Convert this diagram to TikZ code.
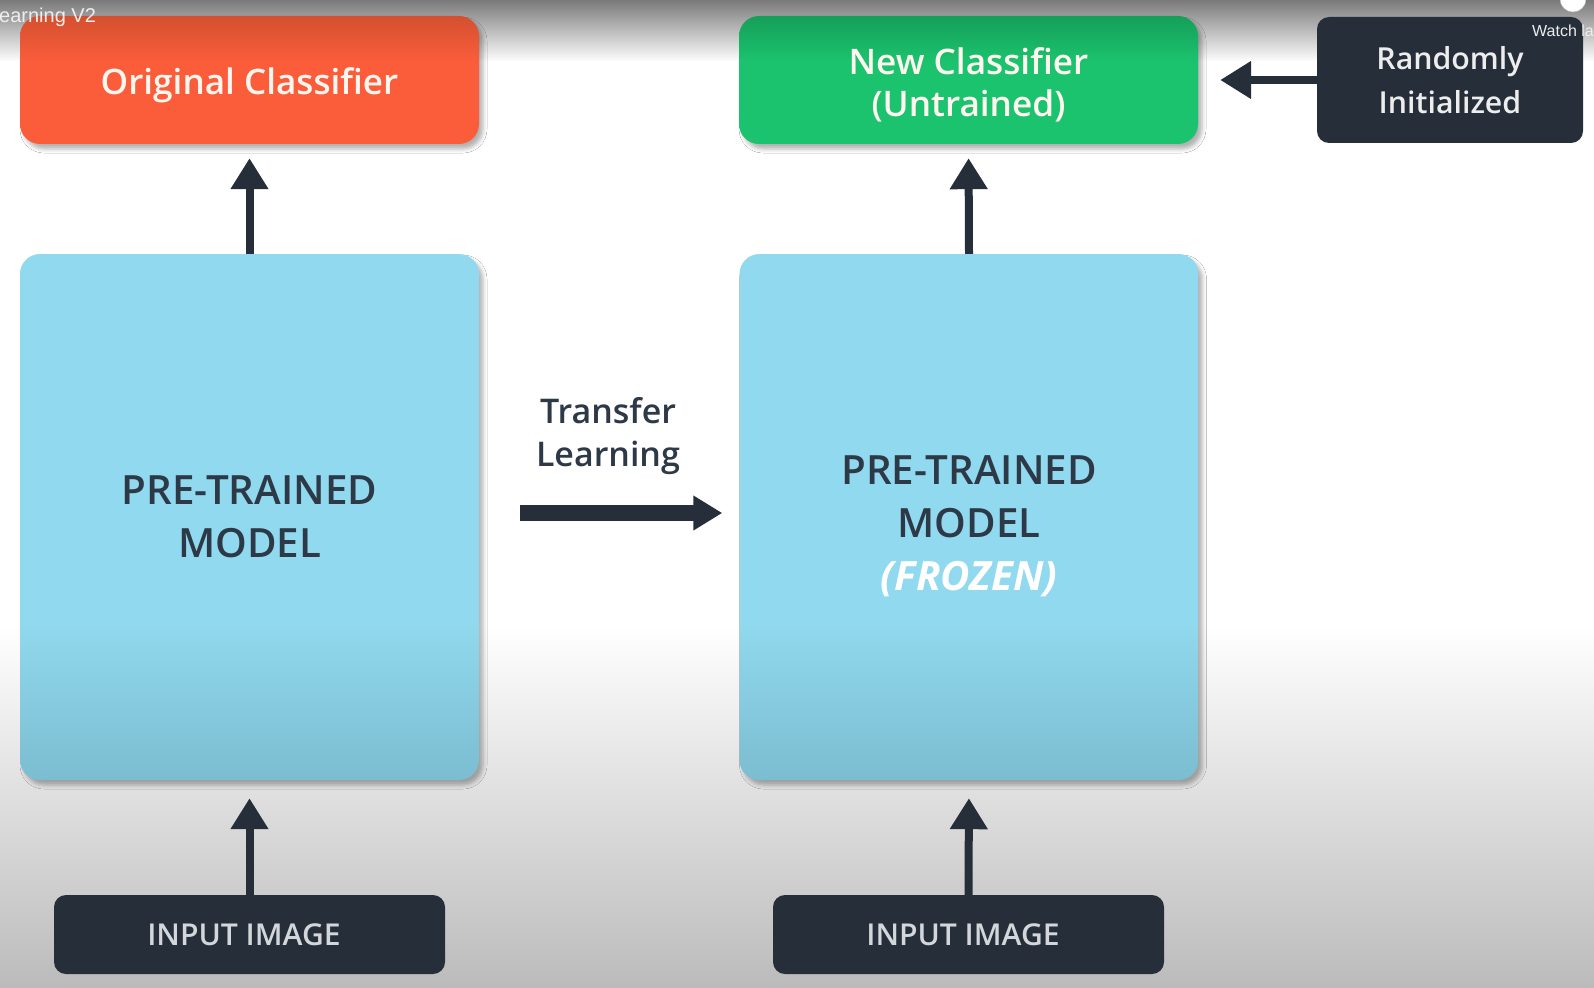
\documentclass[tikz,border=0pt]{standalone}
\usepackage{fontspec}
\setmainfont{Open Sans}
\IfFontExistsTF{Open Sans Semibold}{\newfontfamily\semi{Open Sans Semibold}}{\newfontfamily\semi{Open Sans}[FakeBold=2.2]}
\newfontfamily\ovlfont{Liberation Sans}
\usetikzlibrary{arrows.meta,shadows.blur}
\definecolor{orangeA}{HTML}{FB5D3B}
\definecolor{orangeB}{HTML}{D4502F}
\definecolor{greenA}{HTML}{1BC36E}
\definecolor{greenB}{HTML}{159F59}
\definecolor{blueA}{HTML}{91D9EE}
\definecolor{blueB}{HTML}{7BBDD1}
\definecolor{navy}{HTML}{252E39}
\definecolor{ink}{HTML}{2D3947}
\definecolor{topgray}{HTML}{7A7A7A}
\definecolor{botgray}{HTML}{BBBBBB}
\definecolor{softwhite}{HTML}{FFF6F0}
\definecolor{inputtext}{HTML}{D3D7DB}
\definecolor{ovltext}{HTML}{EEEEEE}
\pgfdeclareverticalshading{orangesh}{100bp}{color(0bp)=(orangeA); color(57bp)=(orangeA); color(75bp)=(orangeB); color(100bp)=(orangeB)}
\pgfdeclareverticalshading{greensh}{100bp}{color(0bp)=(greenA); color(57bp)=(greenA); color(75bp)=(greenB); color(100bp)=(greenB)}
\pgfdeclareverticalshading{bluesh}{100bp}{color(0bp)=(blueB); color(25bp)=(blueB); color(40bp)=(blueA); color(100bp)=(blueA)}
\pgfdeclareverticalshading{topsh}{100bp}{color(0bp)=(white); color(25bp)=(white); color(75bp)=(topgray); color(100bp)=(topgray)}
\tikzset{
  boxshadow/.style={blur shadow={shadow xshift=4pt, shadow yshift=-5pt, shadow blur radius=4pt, shadow opacity=30}},
  topbox/.style={boxshadow, rounded corners=20pt, minimum width=459pt, minimum height=128pt, inner sep=0pt, align=center, text=softwhite},
  modelbox/.style={boxshadow, rounded corners=20pt, shading=bluesh, minimum width=459pt, minimum height=526pt, inner sep=0pt, align=center, text=ink, font=\semi\fontsize{40.3}{53}\selectfont},
  darkbox/.style={fill=navy, rounded corners=12pt, inner sep=0pt, align=center},
  inputbox/.style={darkbox, minimum width=391pt, minimum height=79pt, text=inputtext, font=\semi\fontsize{30.1}{36}\selectfont},
  arr/.style={draw=navy, line width=8pt, -{Triangle[width=36pt,length=31pt]}},
  bigarr/.style={draw=navy, line width=16pt, -{Triangle[width=33pt,length=29pt]}},
  ovl/.style={inner sep=0pt, text=ovltext}
}
\begin{document}
\begin{tikzpicture}[x=1pt,y=-1pt]
\useasboundingbox (0,0) rectangle (1594,987);
% background
\shade[shading=topsh] (0,0) rectangle (1594,62);
\fill[white] (0,61.5) rectangle (1594,625.5);
\shade[top color=white, bottom color=botgray] (0,625) rectangle (1594,987);
% boxes
\node[topbox, shading=orangesh, font=\semi\fontsize{35.1}{42}\selectfont] (oc) at (249.5,80) {\rule{0pt}{37.4pt}Original Classifier};
\node[topbox, shading=greensh, font=\semi\fontsize{35.2}{42}\selectfont] (nc) at (968.5,80) {\rule{0pt}{36.45pt}New Classifier\\(Untrained)};
\node[darkbox, minimum width=266pt, minimum height=126pt, text=white!93!black, font=\semi\fontsize{30.3}{43.5}\selectfont] (ri) at (1450,80) {Randomly\\Initialized};
\node[modelbox] (pm1) at (249.5,517) {PRE-TRAINED\\MODEL};
\node[modelbox] (pm2) at (969,517) {\rule{0pt}{46.7pt}PRE-TRAINED\\MODEL\\{\color{white}\rmfamily\bfseries\itshape (FROZEN)}};
\node[inputbox] (in1) at (249.5,934.5) {INPUT IMAGE\hspace*{11pt}};
\node[inputbox] (in2) at (968.5,934.5) {INPUT IMAGE\hspace*{11pt}};
\node[align=center, inner sep=0pt, text=ink, font=\semi\fontsize{34}{42.5}\selectfont] (tl) at (608,436) {Transfer\\Learning};
% connectors
\draw[arr, shorten >=14pt] (pm1.north) -- (oc.south);
\draw[arr, shorten >=14pt] (pm2.north) -- (nc.south);
\draw[arr, shorten >=18pt] (in1.north) -- (pm1.south);
\draw[arr, shorten >=18pt] (in2.north) -- (pm2.south);
\draw[arr, shorten >=22pt] (ri.west) -- (nc.east);
\draw[bigarr, shorten <=41pt, shorten >=17pt] ([yshift=4pt]pm1.east) -- ([yshift=4pt]pm2.west);
% overlay texts (video player)
\node[ovl, anchor=base west, font=\ovlfont\fontsize{20}{20}\selectfont] (ov1) at (-1,23) {earning V2};
\node[ovl, anchor=base west, font=\ovlfont\fontsize{16}{16}\selectfont] (ov2) at (1532,37) {Watch la};
\fill[white, draw=gray!50] (1573,-1) circle (13pt);
\end{tikzpicture}
\end{document}
